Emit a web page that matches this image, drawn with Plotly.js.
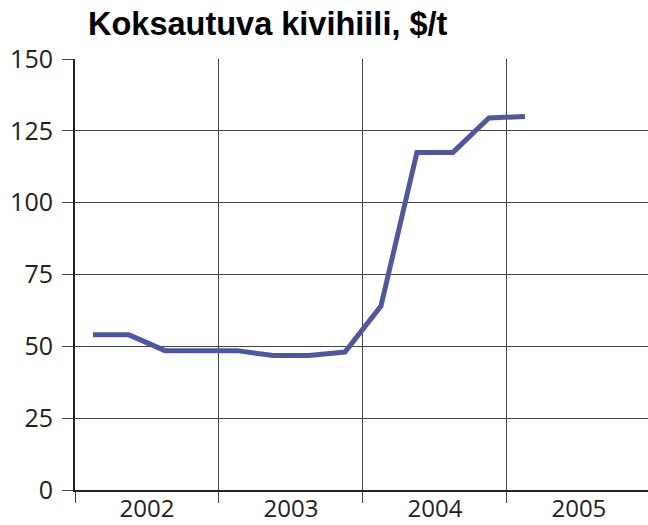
<!DOCTYPE html>
<html>
<head>
<meta charset="utf-8">
<script src="https://cdn.plot.ly/plotly-3.0.1.min.js"></script>
<style>html,body{margin:0;padding:0;background:#fff;}#chart{width:648px;height:525px;}</style>
</head>
<body>
<div id="chart"></div>
<script>
// Quarterly price of coking coal, $/t
var quarters = ["2002Q1","2002Q2","2002Q3","2002Q4","2003Q1","2003Q2","2003Q3","2003Q4","2004Q1","2004Q2","2004Q3","2004Q4","2005Q1"];
var prices = [54, 54, 48.5, 48.5, 48.5, 46.8, 46.8, 48, 64, 117.5, 117.5, 129.5, 130];
var yearLabels = ["2002","2003","2004","2005"];
var yTicks = [0, 25, 50, 75, 100, 125, 150];

var xs = quarters.map(function(q){
  var y = parseInt(q.slice(0,4),10), n = parseInt(q.slice(5),10);
  return y + (n - 0.5) / 4;
});
var labelPos = yearLabels.map(function(y){ return parseInt(y,10) + 0.5; });

var trace = {
  x: xs, y: prices, type: 'scatter', mode: 'lines',
  line: {color: '#50579a', width: 5},
  hoverinfo: 'skip'
};

var layout = {
  width: 648, height: 525,
  margin: {l: 75, r: 0, t: 59, b: 35},
  paper_bgcolor: '#fff', plot_bgcolor: '#fff',
  showlegend: false,
  title: {
    text: '<b>Koksautuva kivihiili, $/t</b>',
    font: {family: 'Liberation Sans, Arial, sans-serif', size: 32.5, color: '#000'},
    x: 88/648, xanchor: 'left', xref: 'container',
    y: 1 - 12/525, yanchor: 'top', yref: 'container'
  },
  xaxis: {
    range: [2002, 5.98 + 2000],
    tickvals: labelPos, ticktext: yearLabels,
    ticks: '',
    ticklabelstandoff: -4,
    showgrid: false, zeroline: false,
    showline: true, linecolor: '#222', linewidth: 2,
    tickfont: {family: 'Open Sans, sans-serif', size: 24, color: '#222'},
    minor: {tick0: 2002, dtick: 1, showgrid: true, gridcolor: '#444', gridwidth: 1,
            ticks: 'outside', ticklen: 11, tickcolor: '#444', tickwidth: 1},
    fixedrange: true
  },
  yaxis: {
    range: [0, 150],
    tickvals: yTicks,
    ticks: 'outside', ticklen: 11, tickcolor: '#444', tickwidth: 1,
    showgrid: true, gridcolor: '#444', gridwidth: 1,
    zeroline: false,
    showline: true, linecolor: '#222', linewidth: 2,
    tickfont: {family: 'Open Sans, sans-serif', size: 25, color: '#222'},
    ticklabelstandoff: 4,
    fixedrange: true
  }
};

Plotly.newPlot('chart', [trace], layout, {displayModeBar: false, staticPlot: true});
</script>
</body>
</html>
